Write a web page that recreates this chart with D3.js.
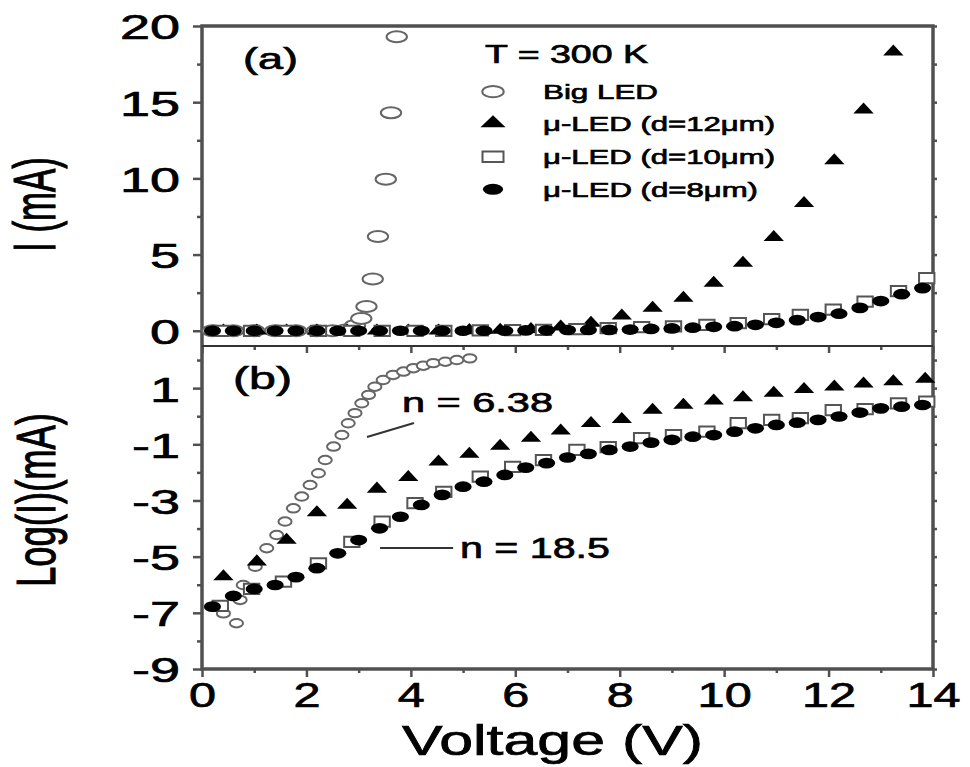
<!DOCTYPE html>
<html>
<head>
<meta charset="utf-8">
<script src="https://cdn.jsdelivr.net/npm/d3@7"></script>
<style>
  body { margin: 0; background: #fff; }
  svg text { font-family: "Liberation Sans", Arial, sans-serif; fill: #000; stroke: #000; stroke-width: 0.7px; }
</style>
</head>
<body>
<div id="chart-section"></div>
<script>
//Data---------------------------------------------------------------------
// panel (a): I (mA) vs voltage
var bigV_a = [0.2, 0.6, 1.0, 1.4, 1.8, 2.2, 2.5, 2.75, 2.93, 3.05, 3.15, 3.27, 3.37, 3.52, 3.62, 3.73];
var bigI_a = [0, 0, 0, 0, 0, 0, 0, 0.05, 0.35, 0.8, 1.59, 3.39, 6.18, 9.95, 14.3, 19.3];

var led12V = [0.41, 1.05, 1.62, 2.20, 2.78, 3.35, 3.95, 4.53, 5.12, 5.71, 6.30, 6.87,
              7.45, 8.04, 8.63, 9.22, 9.80, 10.36, 10.95, 11.53, 12.11, 12.67, 13.24, 13.85];
var led12I_a = [0, 0, 0, 0, 0, 0, 0, 0, 0.02, 0.05, 0.1, 0.25,
                0.5, 0.98, 1.49, 2.14, 3.13, 4.44, 6.13, 8.37, 11.17, 14.5, 18.3, null];

var led10V = [0.35, 0.95, 1.56, 2.23, 2.87, 3.45, 4.08, 4.63, 5.33, 5.95, 6.54, 7.18,
              7.78, 8.42, 9.03, 9.67, 10.27, 10.91, 11.46, 12.09, 12.70, 13.34, 13.88];
var led10I_a = [0, 0, 0, 0, 0, 0, 0, 0, 0.02, 0.04, 0.06, 0.1,
                0.18, 0.24, 0.28, 0.39, 0.5, 0.77, 1.05, 1.38, 1.92, 2.6, 3.45];

var led8V = [0.2, 0.6, 1.0, 1.4, 1.8, 2.2, 2.6, 3.0, 3.4, 3.8, 4.2, 4.6, 5.0, 5.4, 5.8, 6.2, 6.6, 7.0,
             7.4, 7.8, 8.2, 8.6, 9.0, 9.4, 9.8, 10.2, 10.6, 11.0, 11.4, 11.8, 12.2, 12.6, 13.0, 13.4, 13.8];
var led8I_a = [0, 0, 0, 0, 0, 0, 0, 0, 0, 0, 0, 0, 0, 0, 0, 0.02, 0.03, 0.05,
               0.05, 0.06, 0.08, 0.12, 0.15, 0.2, 0.26, 0.3, 0.39, 0.52, 0.7, 0.9, 1.12, 1.5, 1.95, 2.4, 2.8];

// panel (b): log(I) vs voltage
var bigV_b = [0.41, 0.66, 0.73, 0.79, 1.02, 1.24, 1.43, 1.59, 1.75, 1.91, 2.07, 2.23, 2.36, 2.52, 2.68,
              2.80, 2.93, 3.06, 3.19, 3.31, 3.47, 3.66, 3.86, 4.05, 4.24, 4.43, 4.66, 4.88, 5.13];
var bigLog_b = [-7.02, -7.37, -6.54, -6.01, -5.36, -4.70, -4.23, -3.75, -3.28, -2.86, -2.45, -2.03, -1.56, -1.08, -0.67,
                -0.25, 0.11, 0.46, 0.76, 1.05, 1.29, 1.47, 1.59, 1.71, 1.80, 1.89, 1.94, 2.00, 2.06];
var led12Log_b = [-5.71, -5.18, -4.41, -3.43, -3.16, -2.59, -2.18, -1.62, -1.35, -1.06, -0.78, -0.52,
                  -0.25, -0.11, 0.22, 0.40, 0.55, 0.66, 0.82, 0.96, 1.05, 1.15, 1.23, 1.32];
var led10Log_b = [-6.75, -6.15, -5.89, -5.24, -4.47, -3.75, -3.09, -2.69, -2.15, -1.80, -1.56, -1.20,
                  -1.10, -0.78, -0.67, -0.55, -0.25, -0.13, -0.07, 0.22, 0.25, 0.46, 0.52];
var led8Log_b = [-6.78, -6.40, -6.15, -6.01, -5.73, -5.41, -4.88, -4.41, -3.99, -3.58, -3.16, -2.80, -2.51, -2.33, -2.09, -1.83, -1.67, -1.47,
                 -1.34, -1.20, -1.08, -0.94, -0.84, -0.73, -0.67, -0.55, -0.43, -0.31, -0.23, -0.13, -0.01, 0.13, 0.28, 0.34, 0.40];

// ticks
var xMajorTicks = [0, 2, 4, 6, 8, 10, 12, 14];
var xMinorTicks = [1, 3, 5, 7, 9, 11, 13];
var yMajorTicksA = [0, 5, 10, 15, 20];
var yMinorTicksA = [2.5, 7.5, 12.5, 17.5];
var yMajorTicksB = [-9, -7, -5, -3, -1, 1];
var yMinorTicksB = [-8, -6, -4, -2, 0, 2];

var legendLabels = ["Big LED", "\u03bc-LED (d=12\u03bcm)", "\u03bc-LED (d=10\u03bcm)", "\u03bc-LED (d=8\u03bcm)"];

// ideality factor notes, in data units of panel (b)
var noteTexts = ["n = 6.38", "n = 18.5"];
var noteLines = [[[3.16, -0.74], [4.06, -0.24]], [[3.41, -4.69], [4.81, -4.69]]];
var noteAnchors = [[3.83, 0.15], [4.94, -5.05]];
//-----------------------------------------------------------------------

//Global GraphSettings---------------------------------------------------
var svgScreen = { width: 970, height: 767 };
var plotBox = { left: 202, right: 933, top: 26, split: 346, bottom: 669 };
var frameColor = "#505050";
var fontFam = "Liberation Sans, Arial, sans-serif";

var xScale = d3.scaleLinear().domain([0, 14]).range([plotBox.left, plotBox.right]);
var yScaleA = d3.scaleLinear().domain([-1, 20]).range([plotBox.split, plotBox.top]);
var yScaleB = d3.scaleLinear().domain([-9, 2.5]).range([plotBox.bottom, plotBox.split]);

// scanned figure is stretched sideways, so glyphs and markers get an x-scale
var styles = {
  big:   { type: d3.symbolCircle,   size: 95,  sx: 1.85, fill: "#fff", stroke: "#666", sw: 2 },
  bigB:  { type: d3.symbolCircle,   size: 56,  sx: 1.55, fill: "#fff", stroke: "#666", sw: 2 },
  led12: { type: d3.symbolTriangle, size: 70,  sx: 1.6,  fill: "#000", stroke: "none", sw: 0 },
  led10: { type: d3.symbolSquare,   size: 105, sx: 1.5,  fill: "#fff", stroke: "#555", sw: 2 },
  led8:  { type: d3.symbolCircle,   size: 90,  sx: 1.6,  fill: "#000", stroke: "none", sw: 0 }
};
//-----------------------------------------------------------------------

var svg = d3.select("#chart-section")
  .append("svg")
  .attr("width", svgScreen.width)
  .attr("height", svgScreen.height);

var stretchLabels = function(g, sx, fontSize){
  g.attr("font-size", fontSize).attr("font-family", fontFam);
  g.selectAll("text").each(function(){
    var t = d3.select(this);
    var x = +t.attr("x") || 0, y = +t.attr("y") || 0;
    t.attr("transform", "translate(" + x + "," + y + ") scale(" + sx + ",1)")
     .attr("x", null).attr("y", null);
  });
};

var drawAxis = function(axis, tx, ty){
  var g = svg.append("g")
    .attr("transform", "translate(" + tx + "," + ty + ")")
    .style("color", frameColor)
    .call(axis);
  g.select(".domain").remove();
  g.selectAll("line").attr("stroke-width", 2.5);
  return g;
};

var fmt = function(d){ return String(d); };

// left axes
var ga = drawAxis(d3.axisLeft(yScaleA).tickValues(yMajorTicksA).tickSize(9).tickPadding(13).tickFormat(fmt), plotBox.left, 0);
ga.selectAll("text").attr("dy", "0.36em").style("fill", "#000");
stretchLabels(ga, 1.5, 36);
drawAxis(d3.axisLeft(yScaleA).tickValues(yMinorTicksA).tickSize(5).tickFormat(""), plotBox.left, 0);

var gb = drawAxis(d3.axisLeft(yScaleB).tickValues(yMajorTicksB).tickSize(9).tickPadding(13).tickFormat(fmt), plotBox.left, 0);
gb.selectAll("text").attr("dy", "0.36em").style("fill", "#000");
stretchLabels(gb, 1.5, 36);
drawAxis(d3.axisLeft(yScaleB).tickValues(yMinorTicksB).tickSize(5).tickFormat(""), plotBox.left, 0);

// right side ticks
drawAxis(d3.axisRight(yScaleA).tickValues(yMajorTicksA.concat(yMinorTicksA)).tickSize(4).tickFormat(""), plotBox.right, 0);
drawAxis(d3.axisRight(yScaleB).tickValues(yMajorTicksB.concat(yMinorTicksB)).tickSize(4).tickFormat(""), plotBox.right, 0);

// bottom axis
var gx = drawAxis(d3.axisBottom(xScale).tickValues(xMajorTicks).tickSize(8).tickPadding(4).tickFormat(fmt), 0, plotBox.bottom);
gx.selectAll("text").style("fill", "#000");
stretchLabels(gx, 1.35, 36);
drawAxis(d3.axisBottom(xScale).tickValues(xMinorTicks).tickSize(4).tickFormat(""), 0, plotBox.bottom);

// ticks along the shared border, pointing into panel (b)
drawAxis(d3.axisTop(xScale).tickValues(xMajorTicks).tickSize(-7).tickFormat(""), 0, plotBox.split);
drawAxis(d3.axisTop(xScale).tickValues(xMinorTicks).tickSize(-4).tickFormat(""), 0, plotBox.split);

// frame
svg.append("rect")
  .attr("x", plotBox.left).attr("y", plotBox.top)
  .attr("width", plotBox.right - plotBox.left)
  .attr("height", plotBox.bottom - plotBox.top)
  .attr("fill", "none").attr("stroke", frameColor).attr("stroke-width", 3.5);
svg.append("line")
  .attr("x1", plotBox.left).attr("x2", plotBox.right)
  .attr("y1", plotBox.split).attr("y2", plotBox.split)
  .attr("stroke", "#333").attr("stroke-width", 2);

//-----------Markers--------------
var markerPath = function(sel, st){
  sel.attr("d", d3.symbol().type(st.type).size(st.size))
     .attr("fill", st.fill)
     .attr("stroke", st.stroke)
     .attr("stroke-width", st.sw)
     .attr("vector-effect", "non-scaling-stroke");
};

var drawSeries = function(xs, ys, yScale, st, cls){
  var pts = xs.map(function(v, i){ return { v: v, y: ys[i] }; })
              .filter(function(d){ return d.y !== null && d.y !== undefined; });
  svg.append("g").attr("class", cls)
    .selectAll("path")
    .data(pts)
    .enter()
    .append("path")
    .call(markerPath, st)
    .attr("transform", function(d){
      return "translate(" + xScale(d.v) + "," + yScale(d.y) + ") scale(" + st.sx + ",1)";
    });
};

drawSeries(bigV_a, bigI_a, yScaleA, styles.big, "big-a");
drawSeries(led12V, led12I_a, yScaleA, styles.led12, "led12-a");
drawSeries(led10V, led10I_a, yScaleA, styles.led10, "led10-a");
drawSeries(led8V, led8I_a, yScaleA, styles.led8, "led8-a");

drawSeries(bigV_b, bigLog_b, yScaleB, styles.bigB, "big-b");
drawSeries(led12V, led12Log_b, yScaleB, styles.led12, "led12-b");
drawSeries(led10V, led10Log_b, yScaleB, styles.led10, "led10-b");
drawSeries(led8V, led8Log_b, yScaleB, styles.led8, "led8-b");

//-----------Texts--------------
var addText = function(str, x, y, size, len){
  return svg.append("text")
    .attr("x", x).attr("y", y)
    .attr("font-size", size)
    .attr("textLength", len)
    .attr("lengthAdjust", "spacingAndGlyphs")
    .text(str);
};

addText("(a)", 243, 69, 30, 55);
addText("(b)", 233, 389, 32, 59);
addText("T = 300 K", 485, 63, 25, 163);

// legend
var legendKeys = ["big", "led12", "led10", "led8"];
var legendY = [91.7, 123.3, 156.7, 189.3];
var legendLen = [115, 232, 232, 215];
var legendSx = [1.9, 1.8, 2.0, 1.85];
legendKeys.forEach(function(k, i){
  var st = styles[k];
  var big = Object.assign({}, st, { size: st.size * (k === "led12" ? 1.2 : 1.05) });
  svg.append("path")
    .call(markerPath, big)
    .attr("transform", "translate(493," + legendY[i] + ") scale(" + legendSx[i] + ",1)");
  addText(legendLabels[i], 543, legendY[i] + 7.7, 21, legendLen[i]);
});

// ideality notes
var noteLen = [151, 150];
var noteSize = [28, 29];
noteTexts.forEach(function(str, i){
  svg.append("line")
    .attr("x1", xScale(noteLines[i][0][0])).attr("y1", yScaleB(noteLines[i][0][1]))
    .attr("x2", xScale(noteLines[i][1][0])).attr("y2", yScaleB(noteLines[i][1][1]))
    .attr("stroke", "#333").attr("stroke-width", 2);
  addText(str, xScale(noteAnchors[i][0]), yScaleB(noteAnchors[i][1]), noteSize[i], noteLen[i]);
});

// axis titles
addText("Voltage (V)", 402, 755, 42, 301);

svg.append("text")
  .attr("transform", "translate(55,252) rotate(-90) scale(1,1.5)")
  .attr("font-size", 40)
  .attr("textLength", 95)
  .attr("lengthAdjust", "spacingAndGlyphs")
  .text("I (mA)");

svg.append("text")
  .attr("transform", "translate(55,587) rotate(-90) scale(1,1.5)")
  .attr("font-size", 37)
  .attr("textLength", 174)
  .attr("lengthAdjust", "spacingAndGlyphs")
  .text("Log(I)(mA)");
</script>
</body>
</html>
